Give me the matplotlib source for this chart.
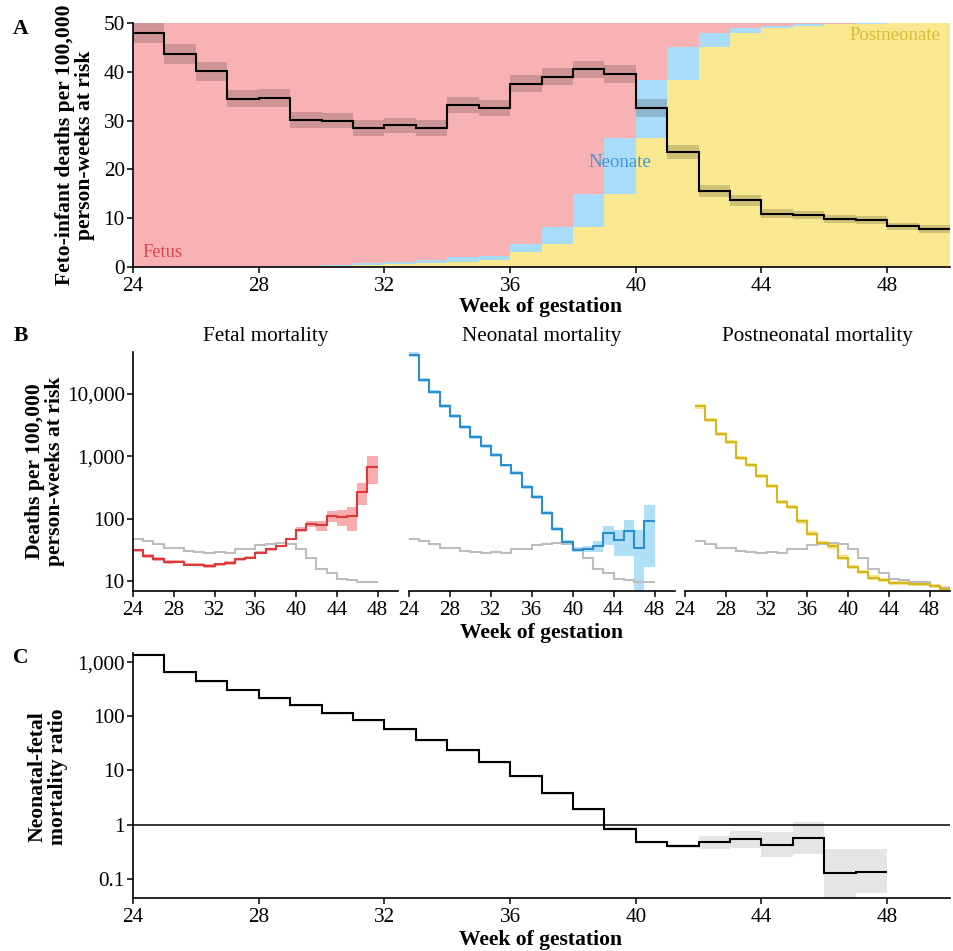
import numpy as np
import matplotlib.pyplot as plt
from matplotlib.ticker import FuncFormatter, FixedLocator

plt.rcParams['font.family'] = ['Liberation Serif', 'DejaVu Serif']
plt.rcParams['font.size'] = 15

# weeks of gestation (bin edges 24..50)
weeks = np.arange(24, 51)

# panel A: total feto-infant mortality per 100,000 person-weeks (weeks 24..49)
total = [48.0, 43.6, 40.1, 34.5, 34.6, 30.1, 30.0, 28.5, 29.0, 28.5, 33.2, 32.6, 37.6,
         39.0, 40.5, 39.6, 32.6, 23.6, 15.6, 13.7, 10.9, 10.6, 9.8, 9.6, 8.3, 7.8]
total_ci = [2.1, 2.0, 2.0, 1.8, 1.8, 1.6, 1.6, 1.6, 1.6, 1.6, 1.7, 1.7, 1.7,
            1.7, 1.8, 1.8, 1.8, 1.4, 1.3, 1.1, 0.9, 0.85, 0.8, 0.8, 0.8, 0.75]
# stacked composition (top of postneonate and neonate layers, scale 0-50)
post_top = [0, 0, 0, 0, 0, 0.1, 0.2, 0.4, 0.6, 0.8, 1.1, 1.4, 3.0, 4.7, 8.1, 14.9,
            26.5, 38.3, 45.1, 47.9, 48.9, 49.4, 49.7, 49.85, 49.9, 50]
neo_top = [0.05, 0.05, 0.1, 0.1, 0.15, 0.25, 0.4, 0.8, 1.0, 1.5, 2.0, 2.2, 4.7, 8.1,
           14.9, 26.5, 38.3, 45.1, 47.9, 48.9, 49.4, 49.7, 49.85, 49.9, 50, 50]

# panel B (weeks 24..47 for fetal / neonatal, 25..49 for postneonatal)
fetal = [31.3, 25.4, 23.1, 20.4, 20.6, 18.5, 18.5, 17.4, 18.7, 19.6, 22.7, 23.9,
         28.8, 32.5, 36.8, 47.6, 67, 84, 79, 111, 107, 110, 272, 670]
fetal_lo = [29, 23.5, 21.5, 19, 19.3, 17.3, 17.3, 16.3, 17.6, 18.5, 21.5, 22.7,
            27.5, 31, 35, 45.5, 61, 74, 65, 88, 76, 64, 164, 357]
fetal_hi = [33.5, 27.3, 24.8, 21.8, 22, 19.8, 19.8, 18.6, 19.9, 20.8, 24, 25.2,
            30.2, 34, 38.7, 50, 74, 94, 91, 133, 137, 155, 380, 1000]

neo = [42800, 16900, 10700, 6380, 4410, 2940, 2040, 1480, 1060, 718, 540, 323,
       223, 124, 69.7, 42.5, 32.2, 32.9, 36.7, 60.1, 45.3, 63, 34.1, 92]
neo_lo = [39500, 15600, 9900, 5900, 4100, 2740, 1900, 1380, 990, 670, 505, 302,
          208, 116, 65, 39.5, 29.5, 29, 29, 38, 25, 25, 3, 17]
neo_hi = [46200, 18200, 11500, 6880, 4750, 3160, 2190, 1590, 1140, 770, 580, 346,
          240, 134, 75, 46.5, 35.5, 37, 45, 76, 65.5, 97, 67, 164]

post = [6310, 3860, 2310, 1690, 953, 736, 484, 335, 186, 154, 91, 58, 41.6, 36.3,
        23.9, 16.9, 14.1, 11.5, 10.4, 9.5, 9.5, 9.2, 8.96, 8.3, 7.6]
post_lo = [5800, 3560, 2130, 1560, 880, 680, 447, 310, 172, 142, 84, 53.5, 38.5,
           33.5, 22, 15.6, 13, 10.6, 9.6, 8.8, 8.8, 8.5, 8.3, 7.7, 7.0]
post_hi = [6850, 4180, 2500, 1830, 1030, 795, 523, 362, 201, 167, 98.5, 63, 45,
           39.3, 26, 18.3, 15.3, 12.5, 11.3, 10.3, 10.3, 10, 9.7, 9.0, 8.3]

# panel C: neonatal-fetal mortality ratio (weeks 24..47)
ratio = [1390, 664, 445, 312, 219, 164, 115, 86.8, 58.3, 37, 24.2, 14.1, 7.97,
         3.81, 1.95, 0.84, 0.47, 0.40, 0.48, 0.53, 0.42, 0.57, 0.125, 0.135]
ratio_lo = [1300, 620, 415, 290, 203, 152, 107, 80.5, 54, 34.3, 22.4, 13, 7.35,
            3.5, 1.8, 0.77, 0.44, 0.37, 0.36, 0.37, 0.25, 0.29, 0.04, 0.054]
ratio_hi = [1420, 680, 456, 320, 225, 168, 118, 89, 60, 38, 24.9, 14.5, 8.2,
            3.95, 2.03, 0.9, 0.5, 0.43, 0.61, 0.75, 0.74, 1.12, 0.36, 0.35]

PINK, BLUE, YELLOW = '#f9b2b4', '#a8dcf8', '#f9e88f'
RED_L, BLUE_L, YEL_L = '#dc3a3a', '#2a8fcf', '#d4b820'
W, H = 954, 951
TICK = 15.3


def box(x0, y0, x1, y1):
    return [x0 / W, 1 - y1 / H, (x1 - x0) / W, (y1 - y0) / H]


def comma(v, pos):
    if v >= 1:
        return f'{v:,.0f}'
    return f'{v:g}'


def style(ax, left=True):
    for s in ['top', 'right']:
        ax.spines[s].set_visible(False)
    ax.spines['bottom'].set_linewidth(1.2)
    ax.spines['left'].set_linewidth(1.2)
    ax.tick_params(direction='out', length=4, width=1.1, labelsize=TICK, pad=2)
    ax.tick_params(axis='x', pad=3)
    if not left:
        ax.spines['left'].set_visible(False)
        ax.tick_params(axis='y', left=False, labelleft=False)
    ax.set_xticks(np.arange(24, 49, 4))
    ax.set_xlim(24, 50)


fig = plt.figure(figsize=(W / 100, H / 100), dpi=100)

# ---- A
axA = fig.add_axes(box(133, 23, 950, 267))
axA.stairs(post_top, weeks, baseline=0, fill=True, color=YELLOW, lw=0)
axA.stairs(neo_top, weeks, baseline=post_top, fill=True, color=BLUE, lw=0)
axA.stairs(np.full(len(total), 50.0), weeks, baseline=neo_top, fill=True, color=PINK, lw=0)
t = np.array(total)
c = np.array(total_ci)
axA.stairs(t + c, weeks, baseline=t - c, fill=True, color='black', alpha=0.17, lw=0)
axA.stairs(total, weeks, baseline=None, color='black', lw=1.5)
axA.set_ylim(0, 50)
axA.set_yticks([0, 10, 20, 30, 40, 50])
style(axA)
axA.text(24.3, 2.9, 'Fetus', color='#e0454a', fontsize=13.2, va='center', ha='left')
axA.text(39.5, 21.5, 'Neonate', color='#3d9ad6', fontsize=13.5, va='center', ha='center')
axA.text(49.7, 47.5, 'Postneonate', color='#d6bd34', fontsize=13.5, va='center', ha='right')

# ---- B
titles = ['Fetal mortality', 'Neonatal mortality', 'Postneonatal mortality']
xs = [(133, 398), (409, 675), (685, 950)]
series = [(fetal, fetal_lo, fetal_hi, weeks[:25], RED_L, '#f8a3a6'),
          (neo, neo_lo, neo_hi, weeks[:25], BLUE_L, '#a8dcf8'),
          (post, post_lo, post_hi, weeks[1:], YEL_L, '#f8e27a')]
for i, ((x0, x1), (v, lo, hi, e, lc, bc)) in enumerate(zip(xs, series)):
    ax = fig.add_axes(box(x0, 352, x1, 591))
    ax.set_yscale('log')
    ax.stairs(hi, e, baseline=lo, fill=True, color=bc, lw=0, alpha=0.9)
    if i < 2:
        ax.stairs(total[:24], weeks[:25], baseline=None, color='#bdbdbd', lw=1.5)
    else:
        ax.stairs(total[1:], weeks[1:], baseline=None, color='#bdbdbd', lw=1.5)
    ax.stairs(v, e, baseline=None, color=lc, lw=1.5)
    ax.set_ylim(7.0, 47000)
    ax.yaxis.set_major_locator(FixedLocator([10, 100, 1000, 10000]))
    ax.yaxis.set_minor_locator(FixedLocator([]))
    ax.yaxis.set_major_formatter(FuncFormatter(comma))
    style(ax, left=(i == 0))
    ax.set_title(titles[i], fontsize=15.2, pad=8)

# ---- C
axC = fig.add_axes(box(133, 653, 950, 898))
axC.set_yscale('log')
axC.stairs(ratio_hi, weeks[:25], baseline=ratio_lo, fill=True, color='#e5e5e5', lw=0)
axC.axhline(1, color='black', lw=1.1)
axC.stairs(ratio, weeks[:25], baseline=None, color='black', lw=1.5)
axC.set_ylim(0.0438, 1490)
axC.yaxis.set_major_locator(FixedLocator([0.1, 1, 10, 100, 1000]))
axC.yaxis.set_minor_locator(FixedLocator([]))
axC.yaxis.set_major_formatter(FuncFormatter(comma))
style(axC)

# labels
bold = dict(fontweight='bold', fontsize=15.6)
fig.text(541 / W, 1 - 307 / H, 'Week of gestation', ha='center', va='center', **bold)
fig.text(542 / W, 1 - 633 / H, 'Week of gestation', ha='center', va='center', **bold)
fig.text(541 / W, 1 - 940 / H, 'Week of gestation', ha='center', va='center', **bold)
fig.text(75 / W, 1 - 145 / H, 'Feto-infant deaths per 100,000\nperson-weeks at risk',
         rotation=90, ha='center', va='center', linespacing=1.0, **bold)
fig.text(45 / W, 1 - 471 / H, 'Deaths per 100,000\nperson-weeks at risk',
         rotation=90, ha='center', va='center', linespacing=1.0, **bold)
fig.text(48 / W, 1 - 777 / H, 'Neonatal-fetal\nmortality ratio',
         rotation=90, ha='center', va='center', linespacing=1.0, **bold)
for lab, y in [('A', 29), ('B', 336), ('C', 658)]:
    fig.text(21 / W, 1 - y / H, lab, ha='center', va='center', fontweight='bold', fontsize=15.6)

fig.savefig('out.png', dpi=100)
